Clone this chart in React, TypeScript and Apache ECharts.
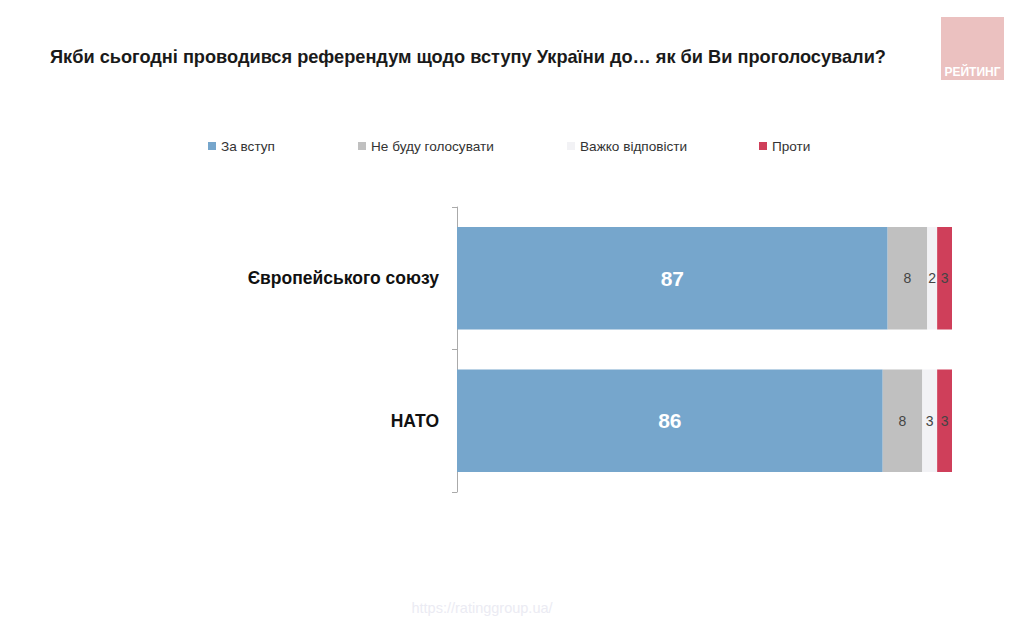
import React, { useEffect, useRef } from "react";
import * as echarts from "echarts";

const categories = ["Європейського союзу", "НАТО"];
const seriesNames = ["За вступ", "Не буду голосувати", "Важко відповісти", "Проти"];
const forJoin = [87, 86];
const notVote = [8, 8];
const hardToSay = [2, 3];
const against = [3, 3];
const seriesValues = [forJoin, notVote, hardToSay, against];
const colors = ["#76a6cc", "#c0c0c0", "#f2f2f5", "#cf3f5a"];
const legendLefts = [203, 353, 562, 754];

export default function App() {
  const ref = useRef<HTMLDivElement>(null);
  useEffect(() => {
    if (!ref.current) return;
    const chart = echarts.init(ref.current, null, { renderer: "svg" });
    const font = "'Liberation Sans', Arial, sans-serif";
    chart.setOption({
      animation: false,
      backgroundColor: "#ffffff",
      textStyle: { fontFamily: font },
      title: {
        text: "Якби сьогодні проводився референдум щодо вступу України до… як би Ви проголосували?",
        left: 45,
        top: 43,
        textStyle: { fontFamily: font, fontSize: 18.2, fontWeight: "bold", color: "#1a1a1a" },
      },
      legend: seriesNames.map((n, i) => ({
        data: [n],
        left: legendLefts[i],
        top: 134,
        icon: "rect",
        itemWidth: 8,
        itemHeight: 8,
        itemGap: 0,
        textStyle: { fontFamily: font, fontSize: 13.6, color: "#333" },
      })),
      grid: { left: 457, right: 72, top: 207, bottom: 131, containLabel: false },
      xAxis: { type: "value", min: 0, max: 100, show: false },
      yAxis: {
        type: "category",
        data: categories,
        inverse: true,
        axisLine: { show: true, lineStyle: { color: "#aaaaaa", width: 1 } },
        axisTick: { show: true, length: 5, lineStyle: { color: "#aaaaaa" } },
        axisLabel: {
          margin: 18,
          fontFamily: font,
          fontSize: 17.5,
          fontWeight: "bold",
          color: "#111",
        },
      },
      series: seriesNames.map((n, i) => ({
        name: n,
        type: "bar",
        stack: "total",
        barCategoryGap: "28%",
        itemStyle: { color: colors[i] },
        data: seriesValues[i],
        label: {
          show: true,
          position: "inside",
          fontFamily: font,
          fontSize: i === 0 ? 21 : 14,
          fontWeight: i === 0 ? "bold" : "normal",
          color: i === 0 ? "#ffffff" : "#444444",
        },
      })),
      graphic: [
        {
          type: "rect",
          shape: { x: 941, y: 17, width: 63, height: 63 },
          style: { fill: "#ebc1c0" },
        },
        {
          type: "text",
          x: 972.5,
          y: 72,
          style: {
            text: "РЕЙТИНГ",
            fill: "#ffffff",
            font: "bold 12px 'Liberation Sans', Arial, sans-serif",
            align: "center",
            verticalAlign: "middle",
          },
        },
        {
          type: "text",
          x: 482,
          y: 608,
          style: {
            text: "https://ratinggroup.ua/",
            fill: "#ebebf3",
            font: "14.5px 'Liberation Sans', Arial, sans-serif",
            align: "center",
            verticalAlign: "middle",
          },
        },
      ],
    });
    return () => chart.dispose();
  }, []);
  return <div ref={ref} style={{ width: 1024, height: 623, position: "absolute", left: 0, top: 0 }} />;
}
